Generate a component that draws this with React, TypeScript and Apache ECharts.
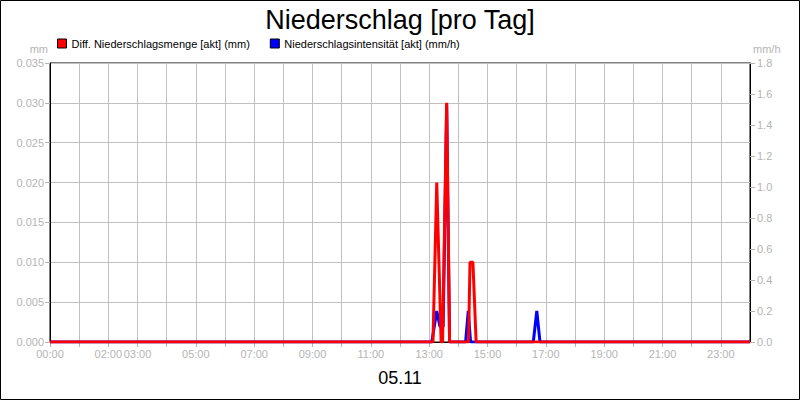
import React, { useEffect, useRef } from "react";
import * as echarts from "echarts";

const titleText = "Niederschlag [pro Tag]";
const dateLabel = "05.11";
const seriesNames = ["Diff. Niederschlagsmenge [akt] (mm)", "Niederschlagsintensität [akt] (mm/h)"];
const labeledHours = [0, 2, 3, 5, 7, 9, 11, 13, 15, 17, 19, 21, 23];

// [hour of day, mm]
const diffAmount: [number, number][] = [
  [0, 0], [13.13, 0], [13.26, 0.02], [13.41, 0], [13.46, 0], [13.6, 0.03], [13.7, 0],
  [14.35, 0], [14.4, 0.01], [14.5, 0.01], [14.61, 0], [24, 0],
];
// [hour of day, mm/h]
const intensity: [number, number][] = [
  [0, 0], [13.09, 0], [13.26, 0.2], [13.37, 0.1], [13.48, 0.1], [13.6, 1.53], [13.7, 0],
  [14.25, 0], [14.34, 0.2], [14.42, 0], [16.57, 0], [16.69, 0.2], [16.8, 0], [24, 0],
];

const FONT = "'Liberation Sans', Arial, sans-serif";
const GRAY = "#b4b4b4";

export default function App() {
  const ref = useRef<HTMLDivElement>(null);
  useEffect(() => {
    if (!ref.current) return;
    const chart = echarts.init(ref.current, undefined, { renderer: "svg" });
    const pad = (n: number) => (n < 10 ? "0" + n : "" + n);
    chart.setOption({
      animation: false,
      backgroundColor: "#fff",
      textStyle: { fontFamily: FONT },
      title: {
        text: titleText,
        left: "center",
        top: 1,
        textStyle: { fontSize: 27, fontWeight: "normal", color: "#000", fontFamily: FONT },
      },
      legend: {
        left: 52,
        top: 33,
        itemWidth: 9,
        itemHeight: 9,
        itemGap: 20,
        icon: "rect",
        textStyle: { fontSize: 11, color: "#000", fontFamily: FONT },
        data: seriesNames.map((n) => ({ name: n, itemStyle: { borderColor: "#000", borderWidth: 1 } })),
      },
      grid: {
        left: 50, right: 50, top: 63, bottom: 58,
        show: true, borderColor: "#000", borderWidth: 1, backgroundColor: "#fff",
      },
      graphic: [
        {
          type: "rect",
          shape: { x: 0.5, y: 0.5, width: 799, height: 399 },
          style: { fill: "none", stroke: "#000", lineWidth: 1 },
          silent: true,
          z: 100,
        },
      ],
      xAxis: {
        type: "value",
        min: 0,
        max: 24,
        interval: 1,
        name: dateLabel,
        nameLocation: "middle",
        nameGap: 27,
        nameTextStyle: { fontSize: 18, color: "#000", fontFamily: FONT },
        axisLine: { show: true, lineStyle: { color: "#000" } },
        axisTick: { show: true, length: 5, lineStyle: { color: GRAY } },
        axisLabel: {
          color: GRAY,
          fontSize: 11,
          margin: 6,
          showMaxLabel: false,
          formatter: (v: number) => (labeledHours.indexOf(v) >= 0 ? pad(v) + ":00" : ""),
        },
        splitLine: { show: true, lineStyle: { color: "#c0c0c0", width: 1 } },
      },
      yAxis: [
        {
          type: "value",
          min: 0,
          max: 0.035,
          interval: 0.005,
          position: "left",
          name: "mm",
          nameGap: 9,
          nameTextStyle: { color: GRAY, fontSize: 11, align: "right", padding: [0, 2, 0, 0] },
          axisLine: { show: true, lineStyle: { color: "#000" } },
          axisTick: { show: true, length: 5, lineStyle: { color: GRAY } },
          axisLabel: { color: GRAY, fontSize: 11, margin: 6, formatter: (v: number) => v.toFixed(3) },
          splitLine: { show: true, lineStyle: { color: "#c0c0c0", width: 1 } },
        },
        {
          type: "value",
          min: 0,
          max: 1.8,
          interval: 0.2,
          position: "right",
          name: "mm/h",
          nameGap: 9,
          nameTextStyle: { color: GRAY, fontSize: 11, align: "left", padding: [0, 0, 0, 3] },
          axisLine: { show: true, lineStyle: { color: "#000" } },
          axisTick: { show: true, length: 5, lineStyle: { color: GRAY } },
          axisLabel: { color: GRAY, fontSize: 11, margin: 7, formatter: (v: number) => v.toFixed(1) },
          splitLine: { show: false },
        },
      ],
      series: [
        {
          name: seriesNames[1],
          type: "line",
          yAxisIndex: 1,
          data: intensity,
          showSymbol: false,
          symbol: "none",
          color: "#0000ff",
          lineStyle: { color: "#0000ff", width: 3 },
          z: 2,
        },
        {
          name: seriesNames[0],
          type: "line",
          yAxisIndex: 0,
          data: diffAmount,
          showSymbol: false,
          symbol: "none",
          color: "#ff0000",
          lineStyle: { color: "#ff0000", width: 3 },
          z: 3,
        },
      ],
    });
    return () => chart.dispose();
  }, []);
  return (
    <div
      ref={ref}
      style={{ position: "fixed", left: 0, top: 0, width: 800, height: 400 }}
    />
  );
}
